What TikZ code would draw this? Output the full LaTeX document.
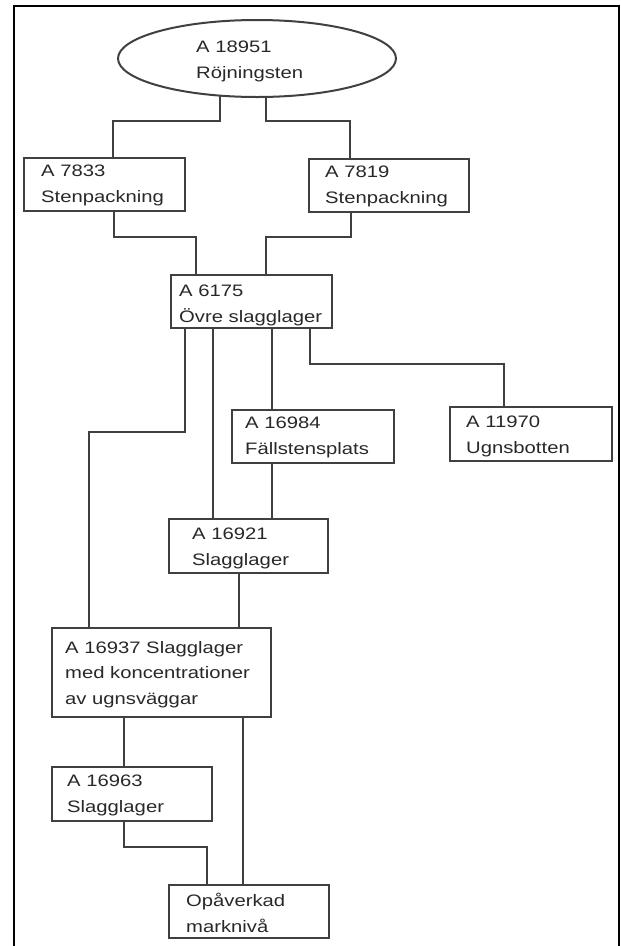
\documentclass[tikz,border=0pt]{standalone}
\usepackage{fontspec}
\newfontfamily\lbfont[FakeStretch=1.22]{Liberation Sans}
\usetikzlibrary{shapes.geometric}
\definecolor{linec}{RGB}{64,64,64}
\definecolor{textc}{RGB}{40,40,40}
\begin{document}
\begin{tikzpicture}[x=1pt,y=-1pt,
  bx/.style={draw=linec, line width=2pt, rectangle, inner sep=0pt, outer sep=0pt, anchor=north west},
  lbl/.style={font=\lbfont\fontsize{16.6}{25.5}\selectfont, text=textc, align=left, inner sep=0pt, anchor=base west},
  conn/.style={draw=linec, line width=2pt}]
\useasboundingbox (0,0) rectangle (621,946);
% frame
\draw[line width=1.6pt, black] (14,946) -- (14,6) -- (619,6) -- (619,946);
% ellipse
\node[draw=linec, line width=2pt, ellipse, minimum width=278pt, minimum height=77pt, inner sep=0pt, outer sep=0pt] (e) at (257,58.5) {};
\node[lbl] (et) at (196,78) {A 18951\\Röjningsten};
% boxes
\node[bx, minimum width=161pt, minimum height=53pt] (a7833) at (24,158) {};
\node[lbl] (a7833t) at (41,202) {A 7833\\Stenpackning};
\node[bx, minimum width=160pt, minimum height=53pt] (a7819) at (309,159) {};
\node[lbl] (a7819t) at (325,203) {A 7819\\Stenpackning};
\node[bx, minimum width=161pt, minimum height=53pt] (a6175) at (171,275) {};
\node[lbl] (a6175t) at (179,322) {A 6175\\Övre slagglager};
\node[bx, minimum width=162pt, minimum height=53pt] (a16984) at (232,410) {};
\node[lbl] (a16984t) at (245,454) {A 16984\\Fällstensplats};
\node[bx, minimum width=162pt, minimum height=54pt] (a11970) at (450,407) {};
\node[lbl] (a11970t) at (466,453) {A 11970\\Ugnsbotten};
\node[bx, minimum width=159pt, minimum height=54pt] (a16921) at (169,519) {};
\node[lbl] (a16921t) at (192,565) {A 16921\\Slagglager};
\node[bx, minimum width=219pt, minimum height=89pt] (a16937) at (52,628) {};
\node[lbl] (a16937t) at (65,704) {A 16937 Slagglager\\med koncentrationer\\av ugnsväggar};
\node[bx, minimum width=160pt, minimum height=54pt] (a16963) at (52,767) {};
\node[lbl] (a16963t) at (67,812) {A 16963\\Slagglager};
\node[bx, minimum width=160pt, minimum height=53pt] (opa) at (169,885) {};
\node[lbl] (opat) at (186,932) {Opåverkad\\marknivå};
% connectors
\draw[conn] (e.-135) |- (113,121) -- (a7833.north -| 113,0);
\draw[conn] (e.-77) |- (350,121) -- (a7819.north -| 350,0);
\draw[conn] (a7833.south -| 114,0) |- (196,237) -- (a6175.north -| 196,0);
\draw[conn] (a7819.south -| 351,0) |- (266,237) -- (a6175.north -| 266,0);
\draw[conn] (a6175.south -| 185,0) |- (89,432) -- (a16937.north -| 89,0);
\draw[conn] (a6175.south -| 213,0) -- (a16921.north -| 213,0);
\draw[conn] (a6175.south -| 272,0) -- (a16984.north -| 272,0);
\draw[conn] (a6175.south -| 310,0) |- (504,364) -- (a11970.north -| 504,0);
\draw[conn] (a16984.south -| 272,0) -- (a16921.north -| 272,0);
\draw[conn] (a16921.south -| 239,0) -- (a16937.north -| 239,0);
\draw[conn] (a16937.south -| 124,0) -- (a16963.north -| 124,0);
\draw[conn] (a16937.south -| 243,0) -- (opa.north -| 243,0);
\draw[conn] (a16963.south -| 124,0) |- (207,847) -- (opa.north -| 207,0);
\end{tikzpicture}
\end{document}
